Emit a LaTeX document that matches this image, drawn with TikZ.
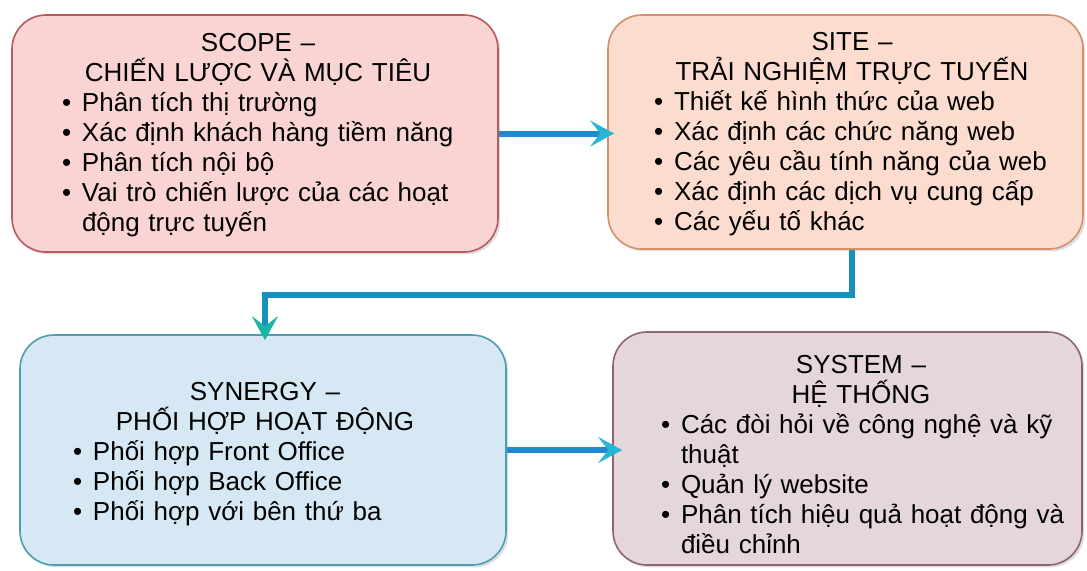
\documentclass[tikz,border=0pt]{standalone}
\usepackage{fontspec}
\setmainfont{Liberation Sans}
\usetikzlibrary{arrows.meta,positioning,calc,shadows}
\definecolor{scopefill}{HTML}{FAD4D2}
\definecolor{scopeline}{HTML}{B85A5C}
\definecolor{sitefill}{HTML}{FCDCCE}
\definecolor{siteline}{HTML}{D4906C}
\definecolor{synfill}{HTML}{D5E8F3}
\definecolor{synline}{HTML}{4E9DB0}
\definecolor{sysfill}{HTML}{E5D6DA}
\definecolor{sysline}{HTML}{8E6470}
\definecolor{flowblue}{HTML}{1F8AD2}
\definecolor{flowcyan}{HTML}{29B6D2}
\definecolor{elbowblue}{HTML}{1690BC}
\definecolor{elbowteal}{HTML}{1DB4A6}
\newcommand{\itm}[1]{\par\noindent\hangindent=10pt\hangafter=1\makebox[10pt][l]{•}#1\par}

\begin{document}
\begin{tikzpicture}[x=0.5pt,y=-0.5pt,
  box/.style={rounded corners=17pt,line width=0.8pt,minimum width=#1,inner sep=0pt,
    drop shadow={opacity=0.25,shadow xshift=1.2pt,shadow yshift=-1.2pt}},
  txt/.style={text width=#1,align=left,inner sep=0pt,font=\fontsize{13pt}{15pt}\selectfont},
  flow/.style={line width=3pt,flowblue,-{Stealth[length=12pt,width=13pt,inset=5pt,color=flowcyan]}},
  elbow/.style={line width=3pt,elbowblue,-{Stealth[length=12pt,width=13pt,inset=5pt,color=elbowteal]}}]
  \useasboundingbox (0,0) rectangle (1087,570);
  % the four boxes
  \node[box=243pt,minimum height=118.5pt,draw=scopeline,fill=scopefill] (scope) at (255,133.5) {};
  \node[box=237.5pt,minimum height=117pt,draw=siteline,fill=sitefill] (site) at (845.5,132) {};
  \node[box=243pt,minimum height=115pt,draw=synline,fill=synfill] (synergy) at (263,450) {};
  \node[box=234.5pt,minimum height=116.5pt,draw=sysline,fill=sysfill] (system) at (847.5,448.5) {};
  % texts
  \node[txt=196pt] (scopetxt) at (258,135) {{\centering SCOPE –\\CHIẾN LƯỢC VÀ MỤC TIÊU\par}
    \itm{Phân tích thị trường}
    \itm{\mbox{Xác định khách hàng tiềm năng}}
    \itm{Phân tích nội bộ}
    \itm{\mbox{Vai trò chiến lược của các hoạt}\newline động trực tuyến}};
  \node[txt=198pt] (sitetxt) at (852,134.5) {{\centering SITE –\\TRẢI NGHIỆM TRỰC TUYẾN\par}
    \itm{\mbox{Thiết kế hình thức của web}}
    \itm{\mbox{Xác định các chức năng web}}
    \itm{\mbox{Các yêu cầu tính năng của web}}
    \itm{\mbox{Xác định các dịch vụ cung cấp}}
    \itm{Các yếu tố khác}};
  \node[txt=192pt] (synergytxt) at (265,454.5) {{\centering SYNERGY –\\PHỐI HỢP HOẠT ĐỘNG\par}
    \itm{Phối hợp Front Office}
    \itm{Phối hợp Back Office}
    \itm{Phối hợp với bên thứ ba}};
  \node[txt=200pt] (systemtxt) at (861,454.5) {{\centering SYSTEM –\\HỆ THỐNG\par}
    \itm{\mbox{Các đòi hỏi về công nghệ và kỹ}\newline thuật}
    \itm{Quản lý website}
    \itm{\mbox{Phân tích hiệu quả hoạt động và}\newline điều chỉnh}};
  % connectors
  \coordinate (bend) at (560,295);
  \draw[flow,shorten >=-3.5pt] (scope.east) -- (scope.east -| site.west);
  \draw[flow,shorten >=-5pt] (synergy.east) -- (synergy.east -| system.west);
  \draw[elbow,shorten >=-3pt] ([xshift=3pt]site.south) |- (bend) -| ([xshift=1pt]synergy.north);
\end{tikzpicture}
\end{document}
